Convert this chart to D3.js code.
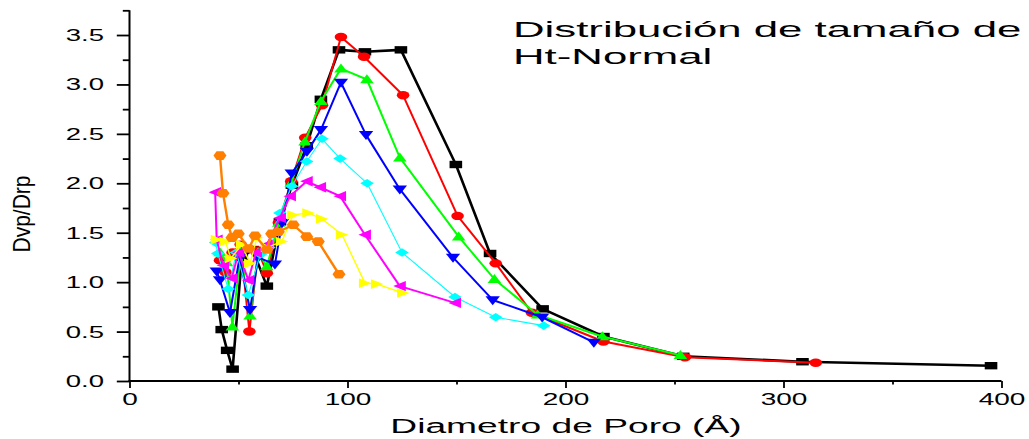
<!DOCTYPE html>
<html>
<head>
<meta charset="utf-8">
<script src="https://cdn.jsdelivr.net/npm/d3@7"></script>
<style>
  html, body { margin: 0; padding: 0; background: #fff; }
  svg { display: block; }
  text { font-family: "Liberation Sans", Arial, sans-serif; fill: #000; }
</style>
</head>
<body>
<svg id="chart" width="1029" height="439"></svg>
<script>
// Pore size distribution (BJH), Ht-Normal — eight samples
const seriesNames = ["s1", "s2", "s3", "s4", "s5", "s6", "s7", "s8"];

const s1 = [[40.8,0.75],[42.3,0.52],[44.8,0.31],[47.3,0.12],[51.5,1.25],[56.5,1.33],[63,0.96],[69,1.61],[74.5,1.98],[81.3,2.38],[87.8,2.85],[96.1,3.35],[108,3.33],[124.5,3.35],[149.7,2.19],[165.4,1.29],[189.5,0.73],[217.4,0.45],[254,0.25],[308.7,0.195],[395.2,0.155]];
const s2 = [[41.5,1.22],[44,1.1],[47.3,1.3],[51,1.38],[55,0.50],[59,1.32],[63,1.09],[68.5,1.6],[74.2,2.02],[80.6,2.46],[88.3,2.79],[97,3.48],[107.6,3.28],[125.5,2.89],[150.5,1.67],[168,1.19],[184.6,0.69],[217.4,0.40],[254.8,0.24],[314.8,0.185]];
const s3 = [[41.5,1.3],[44.5,1.2],[47.2,0.55],[51,1.3],[55.3,0.66],[59,1.3],[63,1.16],[68.5,1.6],[74.2,2.0],[80.5,2.42],[87.8,2.83],[97,3.16],[108.9,3.05],[124,2.26],[151,1.46],[167.4,1.03],[187.2,0.67],[216.9,0.45],[252.7,0.26]];
const s4 = [[40,1.11],[41.5,1.02],[46.1,0.69],[50.5,1.25],[55.3,0.72],[59,1.25],[66.7,1.18],[70,1.6],[74.4,2.10],[81.4,2.32],[87.8,2.54],[97,3.02],[108.5,2.49],[124,1.94],[148.4,1.25],[166.6,0.82],[189.3,0.645],[213,0.39]];
const s5 = [[39.5,1.40],[40.5,1.29],[45.3,0.93],[49,1.3],[54.5,0.87],[60,1.28],[64,1.35],[69,1.70],[74.4,1.97],[81.3,2.22],[88.3,2.45],[96.6,2.25],[109,2.0],[125,1.30],[149.3,0.85],[168,0.645],[190,0.56]];
const s6 = [[39.3,1.91],[40,1.43],[42.9,1.17],[46.9,1.04],[50,1.3],[54.5,1.02],[58,1.3],[63,1.38],[69,1.65],[73.6,1.87],[81.3,2.02],[87.4,1.96],[96.6,1.87],[108,1.48],[124,0.96],[149.3,0.79]];
const s7 = [[40,1.43],[44,1.41],[46.5,1.24],[51.5,1.38],[55.3,1.19],[58.5,1.45],[63,1.35],[69.8,1.41],[75.1,1.68],[82,1.70],[88.3,1.64],[97.5,1.48],[108,0.99],[113.5,0.98],[125.5,0.89]];
const s8 = [[41.5,2.28],[42.9,1.9],[45.3,1.58],[47,1.45],[49.9,1.49],[54.7,1.34],[57.6,1.47],[63,1.33],[65.2,1.49],[68.3,1.51],[75.1,1.58],[81.3,1.46],[86.6,1.41],[96.1,1.08]];

const xMajorTicks = [0, 100, 200, 300, 400];
const xMinorTicks = [50, 150, 250, 350];
const yMajorTicks = [0, 0.5, 1.0, 1.5, 2.0, 2.5, 3.0, 3.5];
const yMinorTicks = [0.25, 0.75, 1.25, 1.75, 2.25, 2.75, 3.25, 3.75];

const titleLines = ["Distribución de tamaño de", "Ht-Normal"];
const xTitle = "Diametro de Poro (Å)";
const yTitle = "Dvp/Drp";

const svg = d3.select("#chart");

const x = d3.scaleLinear().domain([0, 400]).range([129.5, 1001.5]);
const y = d3.scaleLinear().domain([0, 3.75]).range([381, 10.3]);

// style per sample: colour, line width, marker kind
const styles = [
  { data: s1, color: "#000000", lw: 2.6, marker: "square" },
  { data: s2, color: "#ff0000", lw: 2.0, marker: "circle" },
  { data: s3, color: "#00ff00", lw: 2.0, marker: "up" },
  { data: s4, color: "#0000ff", lw: 2.0, marker: "down" },
  { data: s5, color: "#00ffff", lw: 1.1, marker: "diamond" },
  { data: s6, color: "#ff00ff", lw: 2.0, marker: "left" },
  { data: s7, color: "#ffff00", lw: 1.4, marker: "right" },
  { data: s8, color: "#ff8000", lw: 2.4, marker: "hex" }
];

function markerPath(kind) {
  switch (kind) {
    case "square":  return "M-6.3,-3.7H6.3V3.7H-6.3Z";
    case "circle":  return "M-6.3,0A6.3,4.2 0 1,0 6.3,0A6.3,4.2 0 1,0 -6.3,0Z";
    case "up":      return "M0,-5.2L6.8,3.8H-6.8Z";
    case "down":    return "M0,5.2L7.2,-3.8H-7.2Z";
    case "diamond": return "M-6.8,0L0,-4.3L6.8,0L0,4.3Z";
    case "left":    return "M-6.5,0L6,-5.2V5.2Z";
    case "right":   return "M6.5,0L-6,-4.8V4.8Z";
    case "hex":     return "M-6.5,0L-3.4,-4.3H3.4L6.5,0L3.4,4.3H-3.4Z";
  }
}

const line = d3.line().x(d => x(d[0])).y(d => y(d[1]));
const plot = svg.append("g");

styles.forEach((s, i) => {
  const g = plot.append("g").attr("class", seriesNames[i]);
  g.append("path")
    .datum(s.data)
    .attr("d", line)
    .attr("fill", "none")
    .attr("stroke", s.color)
    .attr("stroke-width", s.lw)
    .attr("stroke-linejoin", "round");
  g.selectAll("path.m")
    .data(s.data)
    .enter().append("path")
    .attr("class", "m")
    .attr("d", markerPath(s.marker))
    .attr("transform", d => `translate(${x(d[0])},${y(d[1])})`)
    .attr("fill", s.color);
});

// axes
const yAxisMajor = d3.axisLeft(y).tickValues(yMajorTicks).tickSize(12.7).tickFormat(d3.format(".1f"));
const yAxisMinor = d3.axisLeft(y).tickValues(yMinorTicks).tickSize(6.7).tickFormat("");
const xAxisMajor = d3.axisBottom(x).tickValues(xMajorTicks).tickSize(7).tickFormat(d3.format("d"));
const xAxisMinor = d3.axisBottom(x).tickValues(xMinorTicks).tickSize(3.5).tickFormat("");

function styleAxis(g) {
  g.selectAll(".domain").remove();
  g.selectAll("line").attr("stroke", "#000").attr("stroke-width", 1.8);
}

const gy = svg.append("g").attr("transform", `translate(${x(0)},0)`);
gy.call(yAxisMajor).call(styleAxis);
gy.selectAll("text")
  .attr("x", 0).attr("dy", "0.34em")
  .attr("text-anchor", "end")
  .attr("font-size", 16)
  .attr("font-family", "Liberation Sans, Arial, sans-serif")
  .attr("transform", "translate(-25.5,0) scale(1.72,1)");
svg.append("g").attr("transform", `translate(${x(0)},0)`).call(yAxisMinor).call(styleAxis);

const gx = svg.append("g").attr("transform", `translate(0,${y(0)})`);
gx.call(xAxisMajor).call(styleAxis);
gx.selectAll("text")
  .attr("y", 13).attr("dy", "0.71em")
  .attr("font-size", 16)
  .attr("font-family", "Liberation Sans, Arial, sans-serif")
  .attr("transform", "scale(1,1)")
  .each(function () {
    const t = d3.select(this);
    t.attr("x", 0).attr("transform", "scale(1.75,1)");
  });
svg.append("g").attr("transform", `translate(0,${y(0)})`).call(xAxisMinor).call(styleAxis);

// axis lines
svg.append("line").attr("x1", x(0)).attr("x2", x(0)).attr("y1", y(3.75)).attr("y2", y(0) + 1)
  .attr("stroke", "#000").attr("stroke-width", 2);
svg.append("line").attr("x1", x(0) - 1).attr("x2", x(400)).attr("y1", y(0)).attr("y2", y(0))
  .attr("stroke", "#000").attr("stroke-width", 2);

// axis titles
svg.append("text")
  .attr("transform", `translate(566,433) scale(1.86,1)`)
  .attr("text-anchor", "middle")
  .attr("font-size", 20)
  .text(xTitle);

svg.append("text")
  .attr("transform", `translate(30,214) scale(1.18,1) rotate(-90)`)
  .attr("text-anchor", "middle")
  .attr("font-size", 21)
  .text(yTitle);

// title block
titleLines.forEach((t, i) => {
  svg.append("text")
    .attr("transform", `translate(513,${37 + i * 27}) scale(1.99,1)`)
    .attr("font-size", 22)
    .text(t);
});
</script>
</body>
</html>
